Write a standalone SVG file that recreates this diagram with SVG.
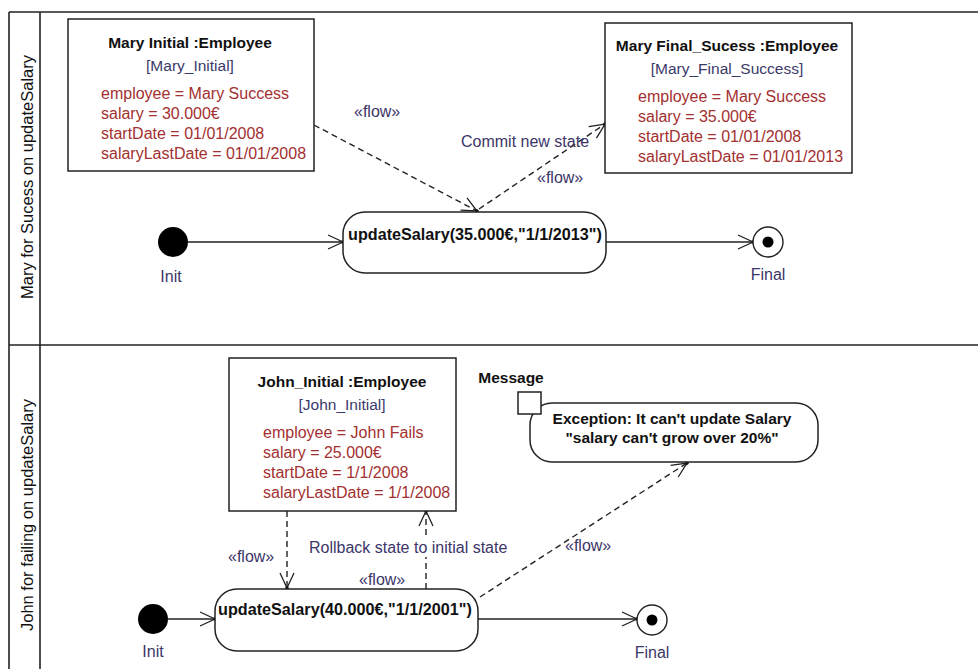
<svg xmlns="http://www.w3.org/2000/svg" width="978" height="669" viewBox="0 0 978 669">
<style>
  .frame{stroke:#222;stroke-width:1.6;fill:none}
  .box{fill:#fff;stroke:#222;stroke-width:1.5}
  .title{font-family:"Liberation Sans",Arial,sans-serif;font-size:15.5px;font-weight:bold;fill:#111;text-anchor:middle}
  .inst{font-family:"Liberation Sans",Arial,sans-serif;font-size:15.5px;fill:#3a3a6a;text-anchor:middle}
  .attr{font-family:"Liberation Sans",Arial,sans-serif;font-size:16px;fill:#a33030}
  .lbl{font-family:"Liberation Sans",Arial,sans-serif;font-size:16px;fill:#3c3568}
  .lane{font-family:"Liberation Sans",Arial,sans-serif;font-size:16.5px;fill:#111;text-anchor:middle}
  .act{font-family:"Liberation Sans",Arial,sans-serif;font-size:16.2px;font-weight:bold;fill:#111}
  .solid{stroke:#222;stroke-width:1.4;fill:none}
  .dash{stroke:#222;stroke-width:1.4;fill:none;stroke-dasharray:6 4}
</style>
<defs>
  <marker id="arr" markerUnits="userSpaceOnUse" markerWidth="20" markerHeight="16" viewBox="-16 -8 18 16" refX="0" refY="0" orient="auto">
    <path d="M-15,-7 L0,0 L-15,7" fill="none" stroke="#222" stroke-width="1.3"/>
    <circle cx="0" cy="0" r="1.8" fill="#111"/>
  </marker>
</defs>

<g id="frame">
  <line class="frame" x1="9" y1="12" x2="978" y2="12"/>
  <line class="frame" x1="9" y1="12" x2="9" y2="669"/>
  <line class="frame" x1="40" y1="12" x2="40" y2="669"/>
  <line class="frame" x1="9" y1="345" x2="978" y2="345"/>
  <text class="lane" transform="translate(33,177) rotate(-90)">Mary for Sucess on updateSalary</text>
  <text class="lane" transform="translate(33,515) rotate(-90)">John for failing on updateSalary</text>
</g>

<g id="connectors">
  <line class="solid" x1="188" y1="242" x2="343" y2="242" marker-end="url(#arr)"/>
  <line class="solid" x1="606" y1="242" x2="753" y2="242" marker-end="url(#arr)"/>
  <line class="dash" x1="314" y1="125" x2="477" y2="211" marker-end="url(#arr)"/>
  <line class="dash" x1="479" y1="209" x2="605" y2="124" marker-end="url(#arr)"/>
  <line class="solid" x1="168" y1="619" x2="215" y2="619" marker-end="url(#arr)"/>
  <line class="solid" x1="478" y1="619" x2="637" y2="619" marker-end="url(#arr)"/>
  <line class="dash" x1="287" y1="511" x2="287" y2="588" marker-end="url(#arr)"/>
  <line class="dash" x1="426" y1="589" x2="426" y2="557"/>
  <line class="dash" x1="426" y1="535" x2="426" y2="511" marker-end="url(#arr)"/>
  <line class="dash" x1="480" y1="597" x2="687" y2="463" marker-end="url(#arr)"/>
  <text class="lbl" x="354" y="117">«flow»</text>
  <text class="lbl" x="461" y="147">Commit new state</text>
  <text class="lbl" x="537" y="183">«flow»</text>
  <text class="lbl" x="228" y="562">«flow»</text>
  <text class="lbl" x="309" y="553">Rollback state to initial state</text>
  <text class="lbl" x="359" y="585">«flow»</text>
  <text class="lbl" x="565" y="551">«flow»</text>
</g>

<g id="mary-initial">
  <rect class="box" x="68" y="19" width="246" height="152"/>
  <text class="title" x="190" y="48">Mary Initial :Employee</text>
  <text class="inst" x="190" y="71">[Mary_Initial]</text>
  <text class="attr" x="101" y="99">employee = Mary Success</text>
  <text class="attr" x="101" y="119">salary = 30.000€</text>
  <text class="attr" x="101" y="139">startDate = 01/01/2008</text>
  <text class="attr" x="101" y="159">salaryLastDate = 01/01/2008</text>
</g>

<g id="mary-final">
  <rect class="box" x="605" y="23" width="247" height="150"/>
  <text class="title" x="727" y="51">Mary Final_Sucess :Employee</text>
  <text class="inst" x="727" y="74">[Mary_Final_Success]</text>
  <text class="attr" x="638" y="102">employee = Mary Success</text>
  <text class="attr" x="638" y="122">salary = 35.000€</text>
  <text class="attr" x="638" y="142">startDate = 01/01/2008</text>
  <text class="attr" x="638" y="162">salaryLastDate = 01/01/2013</text>
</g>

<g id="init1">
  <circle cx="173" cy="242" r="15" fill="#000"/>
  <text class="lbl" x="171" y="282" text-anchor="middle">Init</text>
</g>

<g id="action1">
  <rect class="box" x="343" y="212" width="263" height="61" rx="22" ry="22"/>
  <text class="act" x="348" y="240">updateSalary(35.000€,"1/1/2013")</text>
</g>

<g id="final1">
  <circle cx="768" cy="242" r="15" fill="#fff" stroke="#222" stroke-width="1.4"/>
  <circle cx="768" cy="242" r="5.5" fill="#000"/>
  <text class="lbl" x="768" y="280" text-anchor="middle">Final</text>
</g>

<g id="john-initial">
  <rect class="box" x="229" y="358" width="227" height="153"/>
  <text class="title" x="342" y="387">John_Initial :Employee</text>
  <text class="inst" x="342" y="410">[John_Initial]</text>
  <text class="attr" x="263" y="438">employee = John Fails</text>
  <text class="attr" x="263" y="458">salary = 25.000€</text>
  <text class="attr" x="263" y="478">startDate = 1/1/2008</text>
  <text class="attr" x="263" y="498">salaryLastDate = 1/1/2008</text>
</g>

<g id="message">
  <text class="title" x="511" y="383">Message</text>
  <rect class="box" x="530" y="403" width="288" height="59" rx="22" ry="22"/>
  <rect class="box" x="518" y="392" width="23" height="22"/>
  <text class="title" x="672" y="424">Exception: It can't update  Salary</text>
  <text class="title" x="672" y="443">"salary can't grow over 20%"</text>
</g>

<g id="init2">
  <circle cx="153" cy="619" r="15" fill="#000"/>
  <text class="lbl" x="153" y="657" text-anchor="middle">Init</text>
</g>

<g id="action2">
  <rect class="box" x="215" y="589" width="263" height="62" rx="22" ry="22"/>
  <text class="act" x="218" y="615">updateSalary(40.000€,"1/1/2001")</text>
</g>

<g id="final2">
  <circle cx="652" cy="620" r="15" fill="#fff" stroke="#222" stroke-width="1.4"/>
  <circle cx="652" cy="620" r="5.5" fill="#000"/>
  <text class="lbl" x="652" y="658" text-anchor="middle">Final</text>
</g>
</svg>
